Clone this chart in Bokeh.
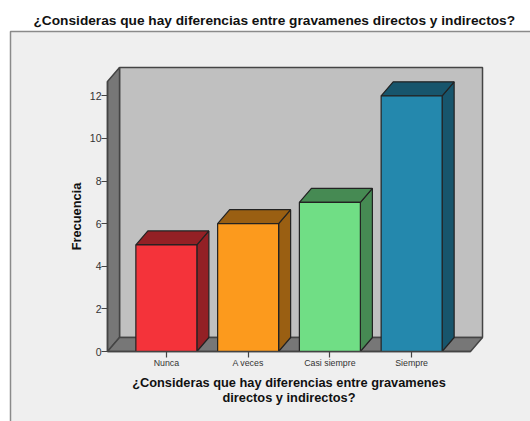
from bokeh.core.properties import value
from bokeh.embed import file_html
from bokeh.resources import INLINE
from bokeh.plotting import figure
from bokeh.models import Range1d, FixedTicker

TITLE = "¿Consideras que hay diferencias entre gravamenes directos y indirectos?"
X_LABEL = "¿Consideras que hay diferencias entre gravamenes\ndirectos y indirectos?"
Y_LABEL = "Frecuencia"
categories = ["Nunca", "A veces", "Casi siempre", "Siempre"]
frequencies = [5, 6, 7, 12]
y_ticks = [0, 2, 4, 6, 8, 10, 12]
front_colors = ["#f4333a", "#fc9a1d", "#70de85", "#2488ad"]
side_colors = ["#932025", "#9a5f12", "#468a53", "#17556c"]
top_colors = ["#932025", "#9a5f12", "#468a53", "#17556c"]

Y_MAX = 12.67
X_PAD = 0.22
DX, DY = 0.147, 0.657
BAR_W = 0.746
EDGE = "#222222"
WALL_EDGE = "#444444"
PX_X = 1 / 81.76   # data units per pixel
PX_Y = 1 / 21.31

W, H = 530, 421
L, T, FW, FH = 107, 81, 363, 270

lo, hi = -X_PAD, len(categories) + X_PAD
centers = [i + 0.5 for i in range(len(categories))]

p = figure(width=W, height=H, output_backend="svg", toolbar_location=None,
           x_range=Range1d(lo, hi), y_range=Range1d(0, Y_MAX),
           min_border_left=L, min_border_right=W - L - FW, min_border_top=T, min_border_bottom=H - T - FH)
p.grid.visible = False
p.outline_line_color = None
p.background_fill_color = None
p.border_fill_color = "white"

# grey panel behind the chart: runs off the right and bottom of the canvas
p.quad(left=lo - 97 * PX_X, right=lo + 500 * PX_X, top=Y_MAX + 50 * PX_Y, bottom=-120 * PX_Y,
       fill_color="#efefef", line_color="#8a8a8a", line_width=1.5, level="annotation")

# chart title, above the panel
p.text(x=[lo - 74 * PX_X], y=[Y_MAX + 61 * PX_Y], text=[TITLE], text_align="left",
       text_baseline="middle", text_font=value("Liberation Sans"), text_font_size="13.7px",
       text_font_style="bold", text_color="#111111", level="overlay")

# 3-D walls
p.patch([lo + DX, hi + DX, hi + DX, lo + DX], [DY, DY, Y_MAX + DY, Y_MAX + DY],
        fill_color="#c0c0c0", line_color=WALL_EDGE, line_width=1.5, level="overlay")
p.patch([lo, lo + DX, lo + DX, lo], [0, DY, Y_MAX + DY, Y_MAX],
        fill_color="#777777", line_color=WALL_EDGE, line_width=1.5, level="overlay")
p.patch([lo, hi, hi + DX, lo + DX], [0, 0, DY, DY],
        fill_color="#777777", line_color=WALL_EDGE, line_width=1.5, level="overlay")

# 3-D bars
for c, v, fc, sc, tc in zip(centers, frequencies, front_colors, side_colors, top_colors):
    l, r = c - BAR_W / 2, c + BAR_W / 2
    p.patch([r, r + DX, r + DX, r], [0, DY, v + DY, v], fill_color=sc,
            line_color=EDGE, line_width=1.2, level="overlay")
    p.patch([l, r, r + DX, l + DX], [v, v, v + DY, v + DY], fill_color=tc,
            line_color=EDGE, line_width=1.2, level="overlay")
    p.patch([l, r, r, l], [0, 0, v, v], fill_color=fc,
            line_color=EDGE, line_width=1.2, level="overlay")

for ax, label in ((p.xaxis[0], X_LABEL), (p.yaxis[0], Y_LABEL)):
    ax.level = "overlay"
    ax.axis_label = label
    ax.axis_label_text_font = "Liberation Sans"
    ax.axis_label_text_font_size = "12.8px"
    ax.axis_label_text_font_style = "bold"
    ax.axis_label_text_color = "#111111"
    ax.axis_label_text_line_height = 1.0
    ax.major_label_text_font = "Liberation Sans"
    ax.major_label_text_color = "#333333"
    ax.axis_line_color = "#444444"
    ax.axis_line_width = 1.5
    ax.major_tick_line_color = "#444444"
    ax.major_tick_line_width = 1.2
    ax.major_tick_out = 6
    ax.major_tick_in = 0
    ax.minor_tick_line_color = None

p.xaxis[0].major_label_text_font_size = "8.8px"
p.xaxis[0].major_label_standoff = 0
p.xaxis[0].axis_label_standoff = 4
p.xaxis[0].ticker = FixedTicker(ticks=centers)
p.xaxis[0].major_label_overrides = dict(zip(centers, categories))
p.yaxis[0].major_label_text_font_size = "10.5px"
p.yaxis[0].major_label_standoff = 0
p.yaxis[0].axis_label_standoff = 3
p.yaxis[0].ticker = FixedTicker(ticks=y_ticks)

open("out.html", "w").write(file_html(p, INLINE))
